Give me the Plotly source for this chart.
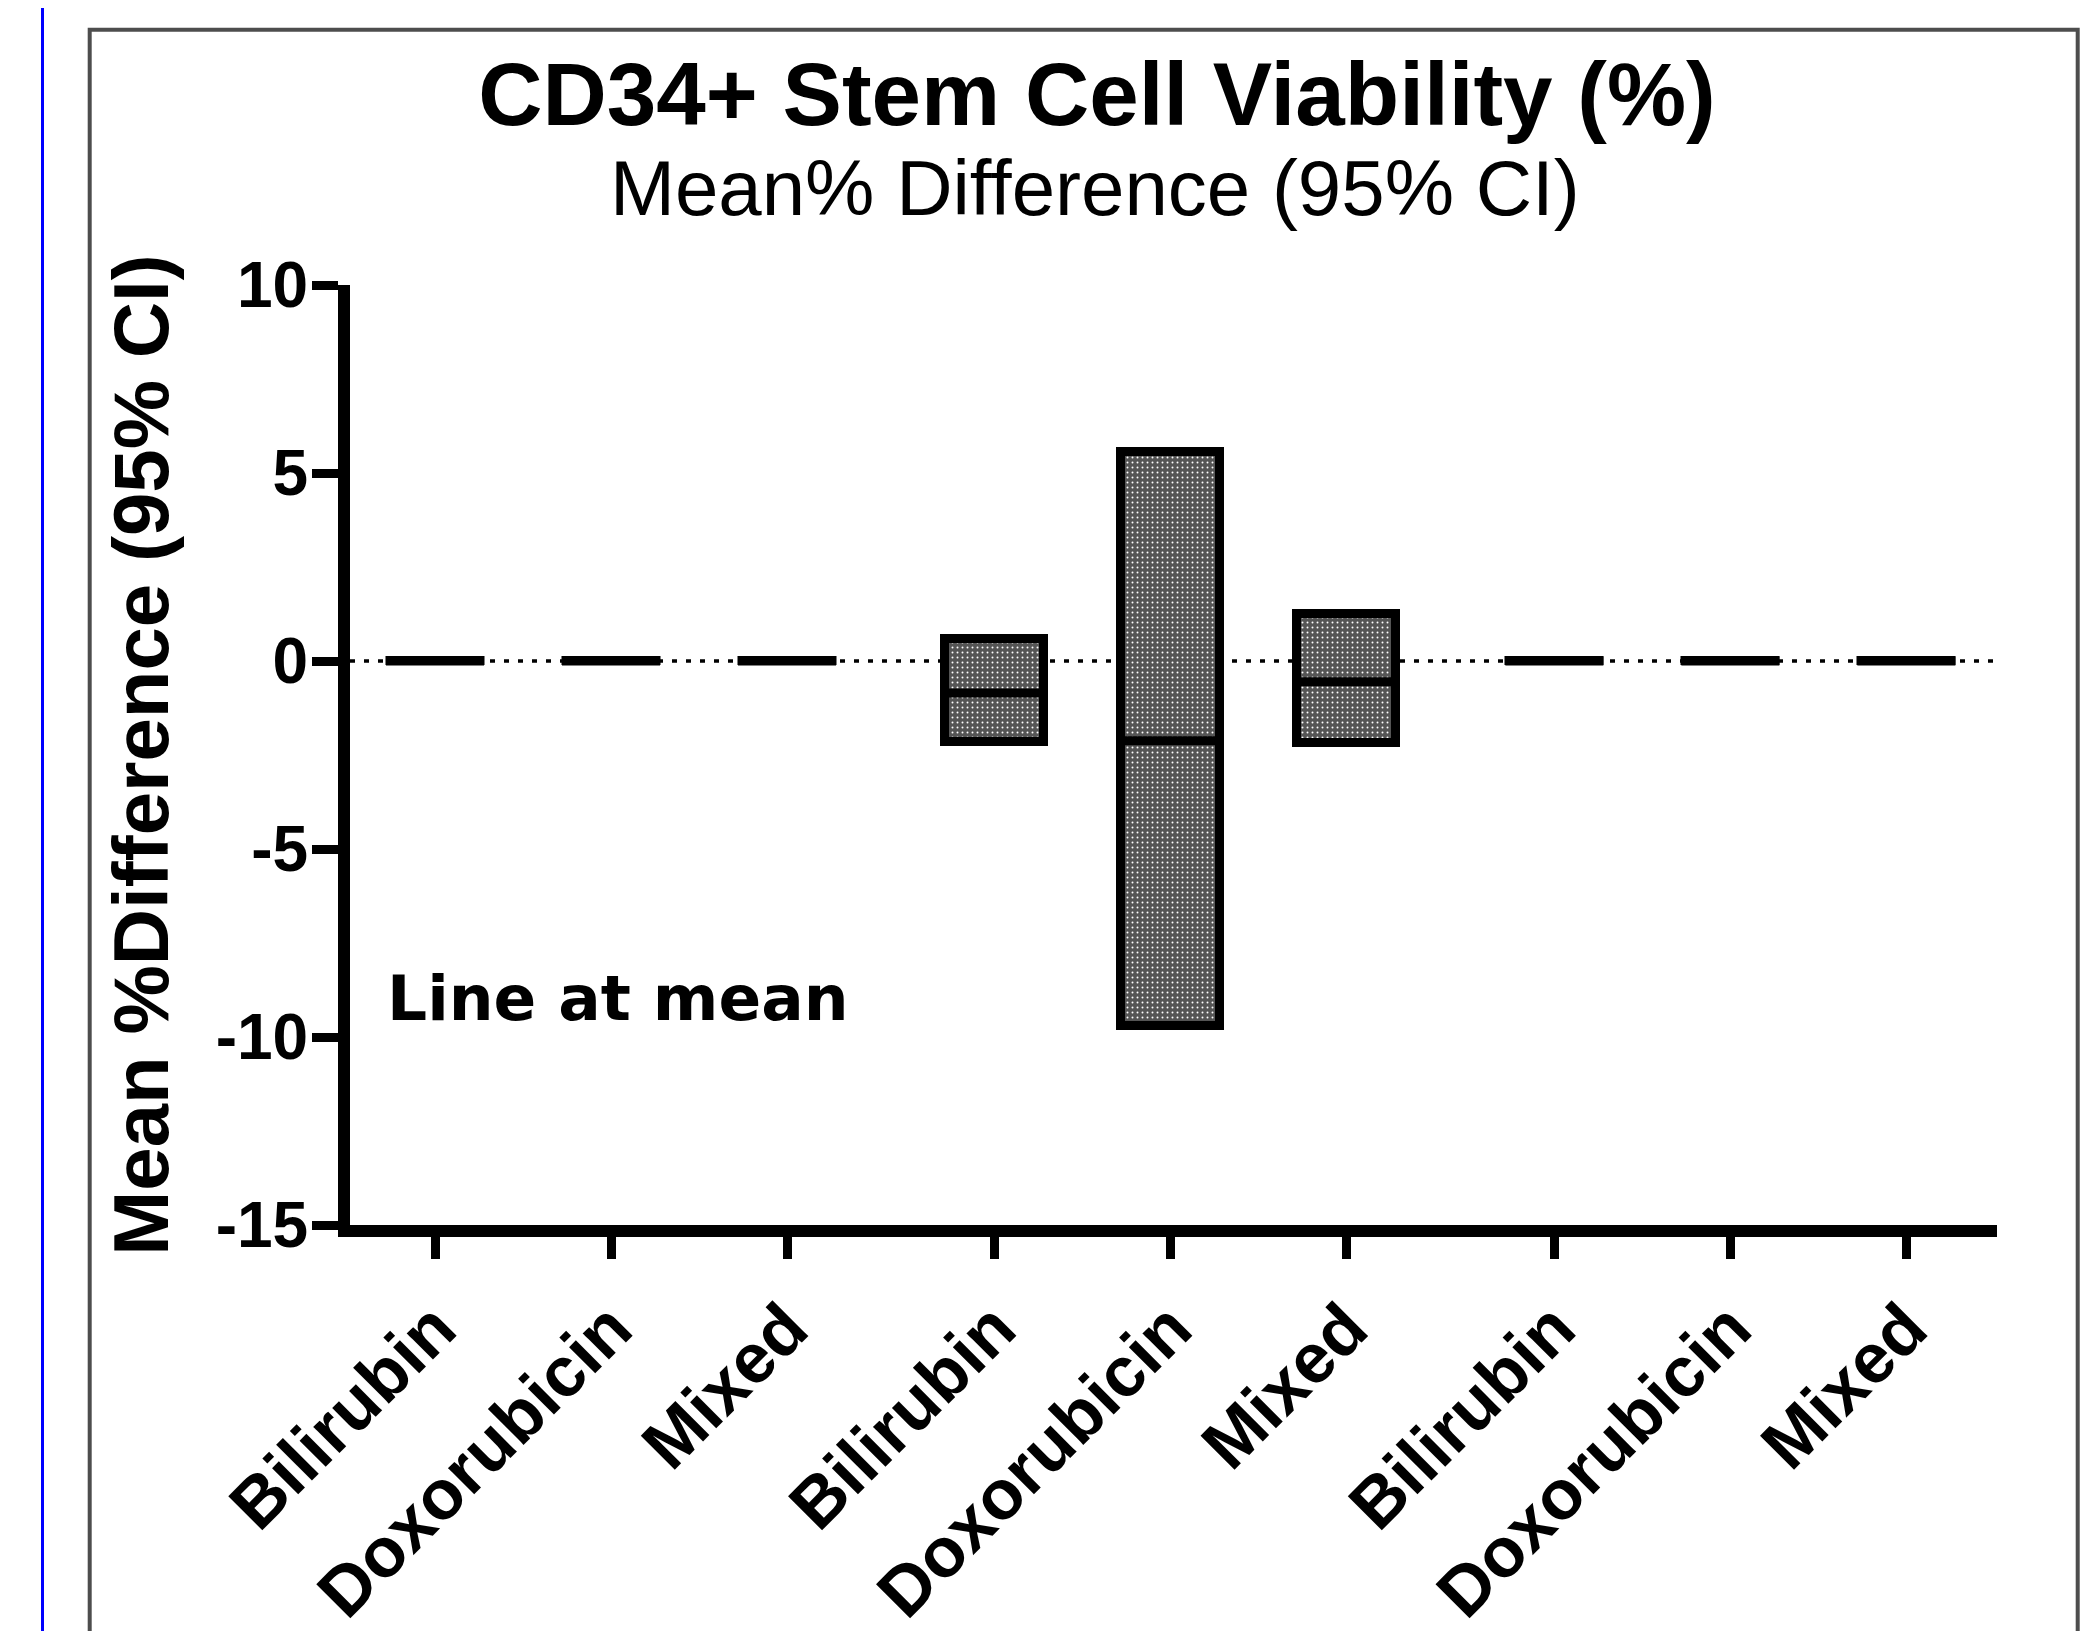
import plotly.graph_objects as go

# ---- data ----
groups = [0, 0, 0, 1, 1, 1, 2, 2, 2]
categories = ["Bilirubin", "Doxorubicin", "Mixed",
              "Bilirubin", "Doxorubicin", "Mixed",
              "Bilirubin", "Doxorubicin", "Mixed"]
ci_lower = [0, 0, 0, -2.15, -9.70, -2.17, 0, 0, 0]
ci_upper = [0, 0, 0, 0.58, 5.55, 1.25, 0, 0, 0]
mean_diff = [0, 0, 0, -0.85, -2.12, -0.55, 0, 0, 0]
y_ticks = [-15, -10, -5, 0, 5, 10]
y_tick_labels = ["-15", "-10", "-5", "0", "5", "10"]

# ---- layout geometry (figure pixel coords; page has 8px body margin) ----
OFF = 8
FIG_W, FIG_H = 2091 - 2 * OFF, 1639 - 2 * OFF
L, R, T, B = 342, 1989, 277, 1217
PW, PH = R - L, B - T
GROUP_GAP = 0.18
idx_in_group = [0, 1, 2] * 3
xpos = [g * (3 + GROUP_GAP) + i for g, i in zip(groups, idx_in_group)]
X_RANGE = [-0.483, 8.875]


def px_x(px):
    return (px - L) / PW


def px_y(py):
    return (B - py) / PH


heights = [u - l for u, l in zip(ci_upper, ci_lower)]

fig = go.Figure()
fig.add_trace(go.Bar(
    x=xpos, y=heights, base=ci_lower, width=0.5625,
    marker=dict(
        color="#555555",
        line=dict(color="black", width=9),
        pattern=dict(shape=".", fgcolor="white", bgcolor="#555555",
                     size=5, solidity=0.12, fillmode="replace"),
    ),
    showlegend=False, hoverinfo="skip",
))
fig.add_trace(go.Scatter(
    x=xpos, y=mean_diff, mode="markers",
    marker=dict(symbol="line-ew", size=70, color="black",
                line=dict(color="black", width=9)),
    showlegend=False, cliponaxis=False, hoverinfo="skip",
))

shapes = [
    # zero reference line
    dict(type="line", xref="paper", yref="y", x0=0, x1=1, y0=0, y1=0,
         line=dict(color="black", width=3.5, dash="5px,9px"), layer="below"),
    # outer frame
    dict(type="rect", xref="paper", yref="paper",
         x0=px_x(81.7), x1=px_x(2069.7), y0=px_y(1700), y1=px_y(21.7),
         line=dict(color="#4d4d4d", width=4), fillcolor="rgba(0,0,0,0)",
         layer="below"),
    # blue page edge line
    dict(type="line", xref="paper", yref="paper",
         x0=px_x(34.5), x1=px_x(34.5), y0=px_y(1700), y1=px_y(-20),
         line=dict(color="#0000ff", width=3), layer="below"),
]

font_fam = "Liberation Sans, Arial, sans-serif"

fig.update_layout(
    width=FIG_W, height=FIG_H,
    margin=dict(l=L, r=FIG_W - R, t=T, b=FIG_H - B, autoexpand=False),
    paper_bgcolor="white", plot_bgcolor="white",
    showlegend=False,
    bargap=0,
    title=dict(
        text="CD34+ Stem Cell Viability (%)",
        font=dict(family=font_fam, size=89, color="black", weight="bold"),
        x=px_x(1089), xref="paper", xanchor="center",
        y=1 - 85.5 / FIG_H, yref="container", yanchor="middle",
    ),
    annotations=[
        dict(text="Mean% Difference (95% CI)", showarrow=False,
             xref="paper", yref="paper", x=px_x(1087), y=px_y(180),
             xanchor="center", yanchor="middle",
             font=dict(family=font_fam, size=78, color="black")),
        dict(text="Line at mean", showarrow=False,
             xref="paper", yref="paper", x=px_x(377), y=px_y(990),
             xanchor="left", yanchor="middle",
             font=dict(family="DejaVu Sans", size=63, color="black",
                       weight="bold")),
    ],
    shapes=shapes,
    xaxis=dict(
        range=X_RANGE, tickmode="array", tickvals=xpos, ticktext=categories,
        tickangle=-45, ticks="outside", ticklen=22, tickwidth=9,
        tickcolor="black", showline=True, linewidth=12, linecolor="black",
        showgrid=False, zeroline=False,
        tickfont=dict(family=font_fam, size=70, color="black", weight="bold"),
    ),
    yaxis=dict(
        range=[-15, 10], tickmode="array", tickvals=y_ticks,
        ticktext=y_tick_labels,
        ticks="outside", ticklen=26, tickwidth=9, tickcolor="black",
        ticklabelstandoff=-9,
        showline=True, linewidth=12, linecolor="black",
        showgrid=False, zeroline=False,
        tickfont=dict(family=font_fam, size=64, color="black", weight="bold"),
        title=dict(text="Mean %Difference (95% CI)", standoff=26,
                   font=dict(family=font_fam, size=78, color="black",
                             weight="bold")),
    ),
)

fig.write_html("out.html")
